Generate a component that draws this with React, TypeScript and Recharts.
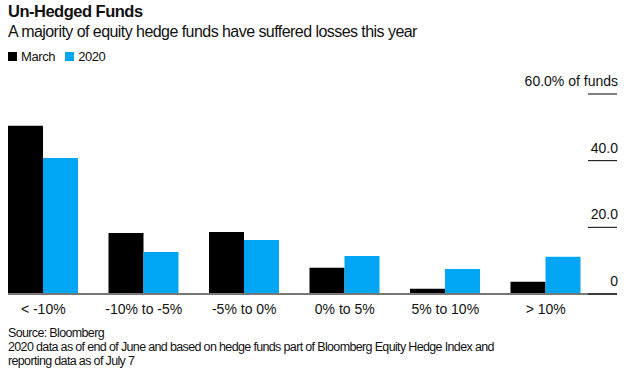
import React from 'react'
import { BarChart, Bar, XAxis, YAxis } from 'recharts'

const categories = ['< -10%', '-10% to -5%', '-5% to 0%', '0% to 5%', '5% to 10%', '> 10%']
const marchValues = [50.5, 18.3, 18.6, 7.9, 1.6, 3.7]
const values2020 = [40.8, 12.6, 16.2, 11.4, 7.5, 11.2]
const yTicks = [0, 20, 40, 60]
const yTickLabels = ['0', '20.0', '40.0', '60.0% of funds']

const data = categories.map((name, i) => ({
    name,
    march: marchValues[i],
    y2020: values2020[i],
}))

const FONT = '"Liberation Sans", Arial, sans-serif'
const BLUE = '#00a6f4'

const RightTick = (props: any) => {
    const { x, y, payload } = props
    const idx = yTicks.indexOf(payload.value)
    return (
        <g>
            <line x1={x - 29} x2={x} y1={y} y2={y} stroke="#000" strokeWidth={1} />
            <text x={x + 1} y={y - 8} textAnchor="end" fontSize={14} fill="#111" fontFamily={FONT}>
                {yTickLabels[idx]}
            </text>
        </g>
    )
}

const App = () => {
    return (
        <div style={{ position: 'absolute', left: 0, top: 0, width: 631, height: 375, fontFamily: FONT, color: '#111' }}>
            <div style={{ position: 'absolute', left: 8, top: 2, fontSize: 16.5, fontWeight: 'bold', letterSpacing: -0.5, whiteSpace: 'nowrap' }}>
                Un-Hedged Funds
            </div>
            <div style={{ position: 'absolute', left: 8, top: 23, fontSize: 16, letterSpacing: -0.55, whiteSpace: 'nowrap' }}>
                A majority of equity hedge funds have suffered losses this year
            </div>
            <div style={{ position: 'absolute', left: 8, top: 49, fontSize: 13, letterSpacing: -0.4, display: 'flex', alignItems: 'center', whiteSpace: 'nowrap' }}>
                <span style={{ display: 'inline-block', width: 9, height: 9, background: '#000', marginRight: 4 }} />
                <span style={{ marginRight: 10 }}>March</span>
                <span style={{ display: 'inline-block', width: 9, height: 9, background: BLUE, marginRight: 4 }} />
                <span>2020</span>
            </div>

            <div style={{ position: 'absolute', left: 0, top: 0 }}>
                <BarChart
                    width={631}
                    height={375}
                    data={data}
                    margin={{ top: 94, left: 8, right: 13, bottom: 51 }}
                    barGap={0}
                >
                    <XAxis
                        dataKey="name"
                        padding={{ left: -15, right: 21 }}
                        axisLine={{ stroke: '#777', strokeWidth: 2 }}
                        tickLine={false}
                        tickMargin={4}
                        tick={{ fontSize: 14, fill: '#111', fontFamily: FONT }}
                        interval={0}
                        height={30}
                    />
                    <YAxis
                        orientation="right"
                        domain={[0, 60]}
                        ticks={yTicks}
                        axisLine={false}
                        tickLine={false}
                        tickSize={0}
                        tickMargin={0}
                        width={1}
                        tick={<RightTick />}
                        interval={0}
                    />
                    <Bar dataKey="march" fill="#000" barSize={35} isAnimationActive={false} />
                    <Bar dataKey="y2020" fill={BLUE} barSize={35} isAnimationActive={false} />
                </BarChart>
            </div>

            <div style={{ position: 'absolute', left: 8, top: 326, fontSize: 12.5, lineHeight: '14px', letterSpacing: -0.65, whiteSpace: 'nowrap' }}>
                Source: Bloomberg
                <br />
                2020 data as of end of June and based on hedge funds part of Bloomberg Equity Hedge Index and
                <br />
                reporting data as of July 7
            </div>
        </div>
    )
}

export default App
